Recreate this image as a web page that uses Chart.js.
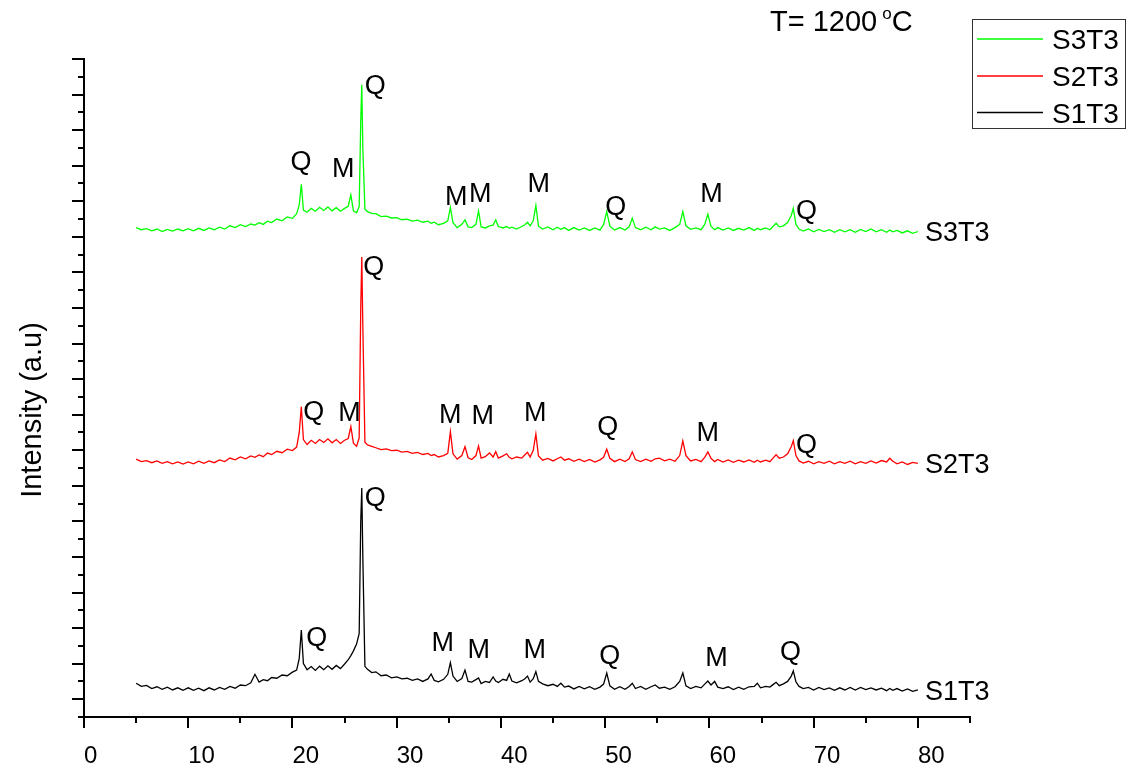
<!DOCTYPE html>
<html>
<head>
<meta charset="utf-8">
<script src="https://cdn.jsdelivr.net/npm/chart.js@4.4.1/dist/chart.umd.min.js"></script>
<style>
  html, body { margin: 0; padding: 0; background: #fff; }
  #wrap { position: relative; width: 1135px; height: 767px; }
  canvas { display: block; }
</style>
</head>
<body>
<div id="wrap"><canvas id="c" width="1135" height="767"></canvas></div>
<script>
// ---- data ----
const twoTheta = [
  5, 5.5, 6, 6.5, 7, 7.5, 8, 8.5, 9, 9.5,
  10, 10.5, 11, 11.5, 12, 12.5, 13, 13.5, 14, 14.5,
  15, 15.5, 16, 16.4, 16.8, 17.2, 17.6, 18, 18.5, 19,
  19.5, 20, 20.4, 20.65, 20.85, 21.05, 21.4, 21.8, 22.2, 22.6,
  23, 23.4, 23.8, 24.2, 24.6, 25, 25.35, 25.6, 25.85, 26.15,
  26.4, 26.55, 26.65, 26.75, 26.95, 27.2, 27.6, 28, 28.5, 29,
  29.5, 30, 30.5, 31, 31.5, 32, 32.5, 33, 33.3, 33.6,
  34, 34.5, 34.9, 35.15, 35.4, 35.8, 36.25, 36.55, 36.85, 37.2,
  37.6, 37.85, 38.1, 38.5, 38.9, 39.25, 39.5, 39.75, 40.2, 40.55,
  40.8, 41.05, 41.5, 42, 42.3, 42.55, 42.8, 43.1, 43.35, 43.6,
  44, 44.5, 45, 45.4, 45.75, 46.1, 46.5, 47, 47.5, 48,
  48.5, 49, 49.5, 49.85, 50.15, 50.45, 50.9, 51.4, 51.9, 52.3,
  52.6, 52.9, 53.4, 53.9, 54.4, 54.8, 55.2, 55.7, 56.2, 56.7,
  57.15, 57.45, 57.75, 58.2, 58.7, 59.2, 59.55, 59.85, 60.15, 60.5,
  60.8, 61.3, 61.8, 62.3, 62.8, 63.3, 63.8, 64.3, 64.6, 64.9,
  65.4, 65.8, 66.1, 66.4, 66.7, 67.1, 67.5, 67.85, 68.05, 68.3,
  68.6, 69, 69.5, 70, 70.5, 71, 71.5, 72, 72.5, 73,
  73.5, 74, 74.5, 75, 75.5, 76, 76.5, 77, 77.3, 77.6,
  78, 78.5, 79, 79.5, 80
];

const s3t3 = [
  2752, 2740, 2746, 2734, 2744, 2730, 2742, 2732, 2744, 2734,
  2746, 2734, 2748, 2736, 2750, 2740, 2754, 2744, 2762, 2752,
  2768, 2758, 2772, 2766, 2780, 2770, 2788, 2780, 2800, 2790,
  2812, 2804, 2830, 2880, 2996, 2850, 2838, 2860, 2844, 2866,
  2848, 2868, 2846, 2864, 2844, 2860, 2872, 2936, 2846, 2835,
  2870, 3350, 3555, 3200, 2856, 2842, 2832, 2830, 2814, 2816,
  2806, 2808, 2796, 2800, 2788, 2794, 2782, 2788, 2776, 2782,
  2768, 2776, 2790, 2865, 2780, 2752, 2770, 2796, 2756, 2752,
  2770, 2846, 2756, 2750, 2762, 2766, 2796, 2758, 2750, 2758,
  2748, 2754, 2744, 2758, 2768, 2782, 2762, 2790, 2876, 2760,
  2744, 2756, 2740, 2754, 2742, 2752, 2736, 2752, 2738, 2750,
  2736, 2750, 2738, 2770, 2842, 2760, 2738, 2752, 2738, 2756,
  2805, 2752, 2740, 2754, 2740, 2756, 2744, 2750, 2736, 2752,
  2770, 2842, 2762, 2742, 2750, 2740, 2770, 2828, 2760, 2740,
  2752, 2738, 2750, 2736, 2748, 2738, 2752, 2736, 2748, 2740,
  2750, 2740, 2758, 2776, 2756, 2762, 2780, 2820, 2861, 2770,
  2744, 2732, 2744, 2728, 2742, 2730, 2740, 2726, 2740, 2728,
  2740, 2726, 2742, 2730, 2744, 2728, 2740, 2726, 2738, 2728,
  2736, 2722, 2734, 2720, 2730
];

const s2t3 = [
  1450, 1436, 1442, 1430, 1440, 1426, 1436, 1424, 1434, 1422,
  1434, 1424, 1438, 1426, 1440, 1430, 1446, 1436, 1456, 1446,
  1462, 1452, 1468, 1460, 1474, 1464, 1484, 1476, 1494, 1486,
  1506, 1498, 1518, 1600, 1745, 1560, 1532, 1556, 1538, 1560,
  1544, 1564, 1542, 1560, 1538, 1556, 1566, 1633, 1540, 1522,
  1570, 2300, 2586, 2200, 1545, 1530, 1522, 1514, 1504, 1508,
  1498, 1500, 1490, 1494, 1482, 1488, 1476, 1482, 1470, 1476,
  1462, 1470, 1482, 1605, 1480, 1450, 1470, 1520, 1458, 1448,
  1470, 1524, 1456, 1464, 1485, 1462, 1492, 1456, 1468, 1480,
  1460, 1452, 1462, 1456, 1475, 1488, 1462, 1500, 1592, 1468,
  1444, 1454, 1440, 1452, 1462, 1444, 1452, 1438, 1450, 1436,
  1448, 1434, 1446, 1460, 1506, 1455, 1436, 1450, 1436, 1452,
  1491, 1448, 1436, 1450, 1438, 1452, 1456, 1440, 1450, 1438,
  1470, 1553, 1470, 1440, 1448, 1436, 1460, 1491, 1455, 1436,
  1448, 1434, 1446, 1432, 1444, 1434, 1446, 1432, 1444, 1434,
  1444, 1436, 1456, 1475, 1455, 1462, 1480, 1520, 1554, 1470,
  1440, 1428, 1438, 1424, 1436, 1426, 1438, 1424, 1436, 1426,
  1438, 1424, 1436, 1426, 1440, 1428, 1442, 1434, 1455, 1438,
  1424, 1434, 1420, 1432, 1426
];

const s1t3 = [
  190, 172, 178, 160, 170, 156, 168, 152, 164, 150,
  164, 150, 162, 148, 164, 152, 166, 156, 172, 162,
  180, 176, 192, 240, 196, 210, 204, 222, 218, 236,
  232, 252, 264, 330, 489, 300, 266, 284, 262, 286,
  266, 288, 268, 290, 272, 298, 322, 345, 372, 410,
  470, 1100, 1288, 900, 285, 268, 250, 254, 232, 236,
  220, 226, 214, 218, 206, 214, 200, 214, 242, 206,
  198, 212, 240, 306, 230, 200, 216, 264, 200, 196,
  210, 219, 188, 200, 194, 225, 202, 194, 212, 206,
  242, 202, 192, 204, 215, 230, 196, 215, 255, 200,
  186, 176, 184, 172, 190, 168, 174, 158, 172, 158,
  170, 156, 168, 185, 247, 175, 156, 170, 156, 172,
  190, 160, 172, 156, 170, 180, 162, 168, 156, 170,
  200, 247, 175, 160, 172, 164, 185, 202, 180, 200,
  168, 160, 170, 154, 168, 156, 170, 172, 190, 164,
  172, 168, 182, 195, 176, 186, 200, 230, 259, 198,
  172, 160, 166, 152, 166, 154, 164, 150, 164, 152,
  166, 152, 166, 154, 164, 152, 162, 148, 160, 150,
  160, 146, 158, 144, 152
];

const seriesNames = ['S3T3', 'S2T3', 'S1T3'];
const seriesColors = ['#00ff00', '#ff0000', '#000000'];

const xTickValues = [0, 10, 20, 30, 40, 50, 60, 70, 80];
const xMinorValues = [5, 15, 25, 35, 45, 55, 65, 75, 85];
const yMajorValues = [100, 300, 500, 700, 900, 1100, 1300, 1500, 1700, 1900, 2100, 2300, 2500, 2700, 2900, 3100, 3300, 3500, 3700];
const yMinorValues = [0, 200, 400, 600, 800, 1000, 1200, 1400, 1600, 1800, 2000, 2200, 2400, 2600, 2800, 3000, 3200, 3400, 3600];

// peak markers (phase letter, 2theta, intensity where the letter sits)
const s3Marks = ['Q', 'Q', 'M', 'M', 'M', 'M', 'Q', 'M', 'Q'];
const s3MarkX = [27.95, 20.83, 24.86, 35.71, 38.02, 43.62, 51.01, 60.21, 69.32];
const s3MarkY = [3555, 3130, 3091, 2936, 2953, 3007, 2876, 2953, 2852];

const s2Marks = ['Q', 'Q', 'M', 'M', 'M', 'M', 'Q', 'M', 'Q'];
const s2MarkX = [27.80, 22.05, 25.47, 35.14, 38.26, 43.30, 50.24, 59.83, 69.32];
const s2MarkY = [2540, 1722, 1717, 1708, 1704, 1717, 1641, 1605, 1541];

const s1Marks = ['Q', 'Q', 'M', 'M', 'M', 'Q', 'M', 'Q'];
const s1MarkX = [27.95, 22.34, 34.42, 37.87, 43.24, 50.43, 60.69, 67.79];
const s1MarkY = [1239, 452, 426, 388, 388, 354, 339, 377];

const yTitle = 'Intensity (a.u)';
const tempLabel = 'T= 1200';
const tempUnit = 'C';

// ---- chart ----
const FONT = '"Liberation Sans", Arial, Helvetica, sans-serif';
const seriesValues = [s3t3, s2t3, s1t3];
const markSets = [
  { t: s3Marks, x: s3MarkX, y: s3MarkY },
  { t: s2Marks, x: s2MarkX, y: s2MarkY },
  { t: s1Marks, x: s1MarkX, y: s1MarkY }
];

const datasets = seriesNames.map((name, k) => ({
  label: name,
  data: twoTheta.map((x, i) => ({ x: x, y: seriesValues[k][i] })),
  borderColor: seriesColors[k],
  backgroundColor: seriesColors[k],
  borderWidth: 1.3,
  pointRadius: 0,
  tension: 0,
  fill: false
}));

function capText(c, txt, x, yCenter, size) {
  c.font = size + 'px ' + FONT;
  c.textBaseline = 'alphabetic';
  c.fillText(txt, x, yCenter + size * 0.358);
}

const extrasPlugin = {
  id: 'extras',
  afterDraw(chart) {
    const c = chart.ctx;
    const xs = chart.scales.x, ys = chart.scales.y;
    c.save();
    c.fillStyle = '#000';
    c.strokeStyle = '#000';

    // minor ticks
    c.lineWidth = 2;
    c.beginPath();
    xMinorValues.forEach(v => {
      const px = Math.round(xs.getPixelForValue(v));
      c.moveTo(px, ys.bottom);
      c.lineTo(px, ys.bottom + 6);
    });
    yMinorValues.forEach(v => {
      const py = Math.round(ys.getPixelForValue(v));
      c.moveTo(xs.left, py);
      c.lineTo(xs.left - 6, py);
    });
    c.stroke();

    // peak letters
    c.textAlign = 'center';
    markSets.forEach(ms => {
      ms.t.forEach((t, i) => {
        capText(c, t, xs.getPixelForValue(ms.x[i]), ys.getPixelForValue(ms.y[i]), 27);
      });
    });

    // series names at the end of each trace
    c.textAlign = 'left';
    chart.data.datasets.forEach(ds => {
      const last = ds.data[ds.data.length - 1];
      capText(c, ds.label, xs.getPixelForValue(last.x) + 7, ys.getPixelForValue(last.y), 27);
    });

    // y title
    c.save();
    c.translate(30.5, 410);
    c.rotate(-Math.PI / 2);
    c.textAlign = 'center';
    capText(c, yTitle, 0, 0, 29);
    c.restore();

    // temperature label
    c.textAlign = 'left';
    capText(c, tempLabel, 770, 21, 29);
    c.font = '29px ' + FONT;
    const w = c.measureText(tempLabel + ' ').width;
    c.font = '17px ' + FONT;
    c.textBaseline = 'alphabetic';
    c.fillText('o', 770 + w - 3, 19);
    const wo = c.measureText('o').width;
    capText(c, tempUnit, 770 + w - 3 + wo, 21, 29);

    // legend box
    c.lineWidth = 1;
    c.strokeStyle = '#333';
    c.strokeRect(972.5, 19.5, 153, 109);
    const rows = [39, 76, 112.5];
    chart.data.datasets.forEach((ds, i) => {
      c.strokeStyle = ds.borderColor;
      c.lineWidth = 1.5;
      c.beginPath();
      c.moveTo(977, rows[i]);
      c.lineTo(1043, rows[i]);
      c.stroke();
      c.fillStyle = '#000';
      c.textAlign = 'left';
      capText(c, ds.label, 1052, rows[i], 28);
    });
    c.restore();
  }
};

new Chart(document.getElementById('c'), {
  type: 'line',
  data: { datasets: datasets },
  plugins: [extrasPlugin],
  options: {
    responsive: false,
    animation: false,
    devicePixelRatio: 1,
    parsing: true,
    layout: { padding: { left: 0, right: 165, top: 59, bottom: 0 } },
    plugins: { legend: { display: false }, tooltip: { enabled: false }, title: { display: false } },
    scales: {
      x: {
        type: 'linear',
        min: 0,
        max: 85,
        afterBuildTicks: s => { s.ticks = xTickValues.map(v => ({ value: v })); },
        afterFit: s => { s.height = 50; },
        grid: { display: true, drawOnChartArea: false, drawTicks: true, tickLength: 11, color: '#000', lineWidth: 2 },
        border: { display: true, color: '#000', width: 2 },
        ticks: { color: '#000', font: { family: FONT, size: 24 }, padding: 14, align: 'start', maxRotation: 0, autoSkip: false }
      },
      y: {
        type: 'linear',
        min: 0,
        max: 3700,
        afterBuildTicks: s => { s.ticks = yMajorValues.map(v => ({ value: v })); },
        afterFit: s => { s.width = 84; },
        grid: { display: true, drawOnChartArea: false, drawTicks: true, tickLength: 12, color: '#000', lineWidth: 2 },
        border: { display: true, color: '#000', width: 2 },
        ticks: { display: false }
      }
    }
  }
});
</script>
</body>
</html>
